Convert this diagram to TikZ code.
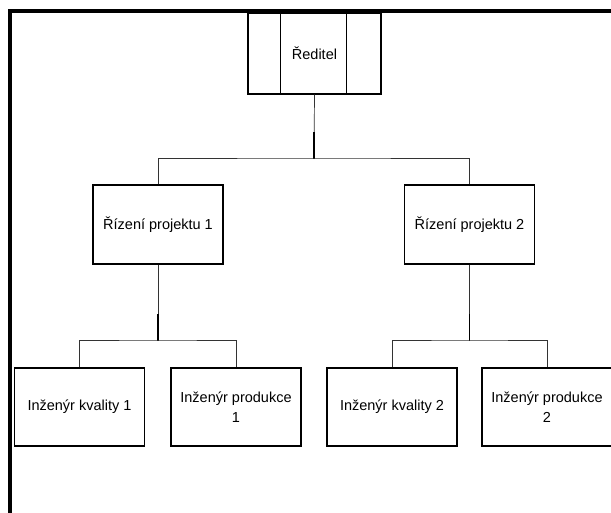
\documentclass[tikz,border=0pt]{standalone}
\usepackage{fontspec}
\setmainfont{Liberation Sans}
\usetikzlibrary{calc}
\begin{document}
\begin{tikzpicture}[x=1pt,y=-1pt,
  orgbox/.style={draw,line width=1.1pt,inner sep=0pt,minimum width=130pt,
    minimum height=79pt,align=center,font=\fontsize{14.5}{19.5}\selectfont},
  link/.style={line width=0.7pt,draw=black!80},
  stem/.style={line width=2.6pt}]
  \useasboundingbox (0,0) rectangle (611,512);
  % page frame (top and left edges)
  \draw[line width=4pt,miter limit=10] (10,520) -- (10,11) -- (620,11);

  % boxes
  \node[orgbox,minimum width=133pt,minimum height=81pt] (ceo) at (314.5,53.5) {\raisebox{-3pt}{Ředitel}};
  \draw[line width=1.1pt] ($(ceo.north west)+(33,0)$) -- ($(ceo.south west)+(33,0)$);
  \draw[line width=1.1pt] ($(ceo.north east)+(-35,0)$) -- ($(ceo.south east)+(-35,0)$);

  \node[orgbox] (p1) at (158,224.5) {Řízení projektu 1};
  \node[orgbox] (p2) at (469.5,224.5) {Řízení projektu 2};

  \node[orgbox,minimum height=78pt] (b1) at (79.5,407) {Inženýr kvality 1};
  \node[orgbox,minimum height=78pt] (b2) at (236,407) {Inženýr produkce\\1};
  \node[orgbox,minimum height=78pt] (b3) at (392,407) {Inženýr kvality 2};
  \node[orgbox,minimum height=78pt] (b4) at (547,407) {Inženýr produkce\\2};

  % junction points of the tree
  \coordinate (j0) at (314,158);
  \coordinate (j1) at (158,340);
  \coordinate (j2) at (469.5,340);

  % connectors
  \draw[link] (ceo.south) -- (j0);
  \draw[stem] ($(j0)+(0,-26)$) -- ($(j0)+(0,0.5)$);
  \draw[link] (p1.north) |- (j0) -| (p2.north);

  \draw[link] (p1.south) -- (j1);
  \draw[stem] ($(j1)+(0,-26)$) -- ($(j1)+(0,0.5)$);
  \draw[link] (b1.north) |- (j1) -| (b2.north);

  \draw[link] (p2.south) -- (j2);
  \draw[line width=1.3pt] ($(j2)+(0,-26)$) -- ($(j2)+(0,0.5)$);
  \draw[link] (b3.north) |- (j2) -| (b4.north);
\end{tikzpicture}
\end{document}
